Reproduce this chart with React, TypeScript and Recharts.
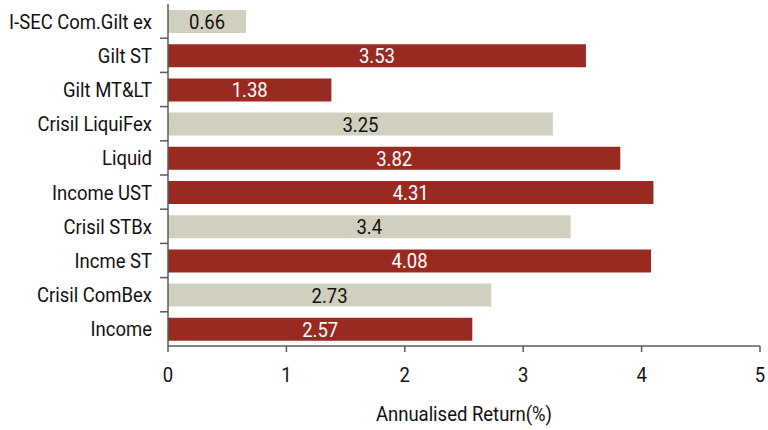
import { BarChart, Bar, XAxis, YAxis, Cell, LabelList } from "recharts";

const categories = [
  "I-SEC Com.Gilt ex",
  "Gilt ST",
  "Gilt MT&LT",
  "Crisil LiquiFex",
  "Liquid",
  "Income UST",
  "Crisil STBx",
  "Incme ST",
  "Crisil ComBex",
  "Income",
];
// bar lengths as drawn in the source picture
const returns = [0.66, 3.53, 1.38, 3.25, 3.82, 4.1, 3.4, 4.08, 2.73, 2.57];
// printed value labels
const valueLabels = ["0.66", "3.53", "1.38", "3.25", "3.82", "4.31", "3.4", "4.08", "2.73", "2.57"];
const isBenchmark = [true, false, false, true, false, false, true, false, true, false];
const xTicks = [0, 1, 2, 3, 4, 5];

const RED = "#982a22";
const BEIGE = "#d1cfbe";
const AXIS = "#5a5a5a";
const FONT = "Roboto, 'Liberation Sans', sans-serif";
const FS = 21;
const SX = 0.88; // squeeze to look like a condensed face

const W = 768;
const H = 430;
const TOP = 4;
const PLOT_H = 342;
const BAND = PLOT_H / categories.length;

const data = categories.map((name, i) => ({
  name,
  value: returns[i],
  label: valueLabels[i],
  bench: isBenchmark[i],
}));

function CondText({ x, y, anchor = "middle", fill = "#111", dy = "0.36em", children }: any) {
  return (
    <text
      transform={`translate(${x},${y}) scale(${SX},1)`}
      x={0}
      y={0}
      dy={dy}
      textAnchor={anchor}
      fill={fill}
      fontSize={FS}
      fontFamily={FONT}
    >
      {children}
    </text>
  );
}

function CategoryTick(props: any) {
  const { x, y, payload, index } = props;
  const ax = x + 16;
  return (
    <g>
      <CondText x={x} y={y} anchor="end">
        {payload.value}
      </CondText>
      {index > 0 && (
        <line x1={ax - 8} x2={ax} y1={y - BAND / 2} y2={y - BAND / 2} stroke={AXIS} strokeWidth={1.5} />
      )}
    </g>
  );
}

function NumberTick(props: any) {
  const { x, y, payload } = props;
  return (
    <CondText x={x} y={y} dy="0.71em">
      {payload.value}
    </CondText>
  );
}

function AxisTitle(props: any) {
  const { viewBox } = props;
  return (
    <CondText x={viewBox.x + viewBox.width / 2} y={viewBox.y + viewBox.height - 17}>
      Annualised Return(%)
    </CondText>
  );
}

function ValueLabel(props: any) {
  const { x, y, width, height, value, index } = props;
  return (
    <CondText x={x + width / 2} y={y + height / 2} fill={isBenchmark[index] ? "#111" : "#fff"}>
      {value}
    </CondText>
  );
}

export default function App() {
  return (
    <div style={{ width: W, height: H, background: "#fff" }}>
      <style>{"html,body{margin:0;padding:0;overflow:hidden;}"}</style>
      <BarChart
        width={W}
        height={H}
        data={data}
        layout="vertical"
        margin={{ top: TOP, right: 8, bottom: 0, left: 0 }}
        barSize={23}
        style={{ overflow: "visible" }}
      >
        <XAxis
          type="number"
          domain={[0, 5]}
          ticks={xTicks}
          height={84}
          stroke={AXIS}
          strokeWidth={1.5}
          tickSize={6}
          tickMargin={15}
          tick={<NumberTick />}
          label={<AxisTitle />}
        />
        <YAxis
          type="category"
          dataKey="name"
          width={168}
          stroke={AXIS}
          strokeWidth={1.5}
          tickLine={false}
          tickMargin={10}
          interval={0}
          tick={<CategoryTick />}
        />
        <Bar dataKey="value" isAnimationActive={false}>
          {data.map((d, i) => (
            <Cell key={i} fill={d.bench ? BEIGE : RED} />
          ))}
          <LabelList dataKey="label" content={<ValueLabel />} />
        </Bar>
      </BarChart>
    </div>
  );
}
